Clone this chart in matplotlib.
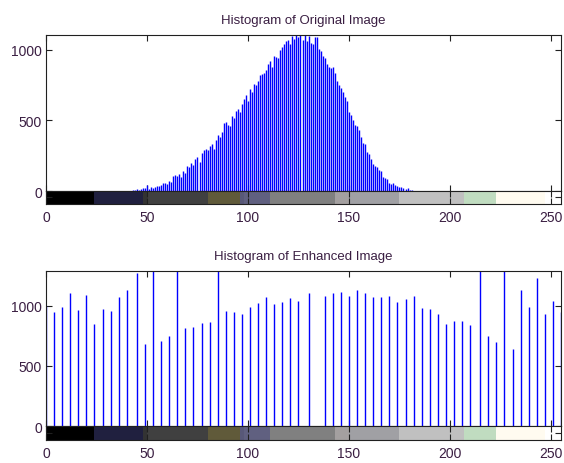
import matplotlib

matplotlib.use("Agg")
import matplotlib.pyplot as plt

# original image histogram: gray levels with non-zero counts
orig_levels = list(range(43, 182))
orig_counts = [
    8, 10, 12, 10, 14, 18, 22, 40, 15, 25,            # 43-52
    22, 30, 38, 32, 45, 60, 55, 50, 68, 62,           # 53-62
    105, 110, 108, 120, 100, 145, 130, 175, 170, 200,  # 63-72
    185, 225, 240, 205, 270, 290, 300, 290, 320, 330,  # 73-82
    300, 360, 395, 380, 420, 480, 490, 470, 460, 530,  # 83-92
    520, 570, 580, 560, 620, 650, 680, 640, 720, 700,  # 93-102
    760, 750, 780, 820, 830, 840, 860, 900, 920, 880,  # 103-112
    960, 950, 940, 1000, 1020, 1040, 1060, 1070, 1040, 1100,  # 113-122
    1080, 1106, 1090, 1106, 1070, 1106, 1060, 1100, 1050, 1040,  # 123-132
    1090, 1095, 1010, 990, 960, 940, 900, 880, 870, 880,  # 133-142
    840, 780, 750, 730, 700, 670, 640, 560, 540, 500,  # 143-152
    470, 460, 430, 380, 340, 330, 280, 260, 230, 190,  # 153-162
    180, 170, 150, 140, 100, 90, 85, 60, 50, 55,       # 163-172
    40, 38, 30, 28, 20, 15, 18, 10, 8,                 # 173-181
]

# enhanced (equalised) image histogram
enh_levels = [0, 4, 8, 12, 16, 20, 24, 28, 32, 36, 40, 45, 49, 53, 57, 61,
              65, 69, 73, 77, 81, 85, 89, 93, 97, 101, 105, 109, 113, 117,
              121, 125, 130, 138, 142, 146, 150, 154, 158, 162, 166, 170,
              174, 178, 182, 186, 190, 194, 198, 202, 206, 210, 215, 219,
              223, 227, 231, 235, 239, 243, 247, 251, 255]
enh_counts = [1000, 947, 994, 1105, 967, 1094, 847, 975, 955, 1072, 1133,
              1272, 680, 1500, 708, 747, 1450, 814, 828, 855, 867, 1480,
              955, 947, 936, 994, 1025, 1072, 1014, 1036, 1064, 1044, 1105,
              1083, 1105, 1114, 1083, 1133, 1105, 1072, 1072, 1083, 1033,
              1055, 1083, 986, 975, 936, 847, 878, 878, 839, 1420, 747, 700,
              1400, 642, 1133, 994, 1233, 936, 1044, 950]

# gray-level strip under each histogram (as rendered with a reduced palette)
strip_edges = [0, 24, 48, 50, 80, 96, 98, 111, 143, 150, 175, 207, 223, 247, 255]
strip_colors = ["#000000", "#20203f", "#333333", "#404040", "#605a3a",
                "#585878", "#606080", "#808080", "#a4a0a0", "#a0a0a4",
                "#c0c0c0", "#c0dcc0", "#fffbf0", "#ffffff"]

TXT = "#3a1e42"
EDGE = "#202020"
plt.rcParams["font.family"] = ["Liberation Sans", "DejaVu Sans"]
plt.rcParams["font.size"] = 10


def hist_panel(fig, rect_h, rect_c, levels, counts, ymax, title):
    ax = fig.add_axes(rect_h)
    ax.vlines(levels, 0, counts, color="#0000ff", lw=1.0)
    ax.set_xlim(0, 255)
    ax.set_ylim(0, ymax)
    ax.set_xticks([0, 50, 100, 150, 200, 250])
    ax.set_yticks([0, 500, 1000])
    ax.tick_params(direction="in", length=4, width=0.8, color=EDGE,
                   top=True, right=True, labelbottom=False,
                   labelcolor=TXT, pad=3)
    for s in ax.spines.values():
        s.set_color(EDGE)
        s.set_linewidth(0.8)
    ax.set_title(title, color=TXT, fontsize=9.5, pad=9)

    cb = fig.add_axes(rect_c)
    for i, c in enumerate(strip_colors):
        cb.axvspan(strip_edges[i], strip_edges[i + 1], color=c, lw=0)
    cb.set_xlim(0, 255)
    cb.set_ylim(0, 1)
    cb.set_xticks([0, 50, 100, 150, 200, 250])
    cb.set_yticks([0.5])
    cb.tick_params(direction="in", length=4, width=0.8, color=EDGE,
                   top=True, right=True, labelleft=False,
                   labelcolor=TXT, pad=4)
    for s in cb.spines.values():
        s.set_color(EDGE)
        s.set_linewidth(0.8)
    return ax, cb


fig = plt.figure(figsize=(5.64, 4.64), dpi=100)
hist_panel(fig, [0.0816, 0.5862, 0.9131, 0.3362], [0.0816, 0.5582, 0.9131, 0.028],
           orig_levels, orig_counts, 1106, "Histogram of Original Image")
hist_panel(fig, [0.0816, 0.0797, 0.9131, 0.334], [0.0816, 0.0496, 0.9131, 0.0302],
           enh_levels, enh_counts, 1290, "Histogram of Enhanced Image")

fig.savefig("out.png", dpi=100)
